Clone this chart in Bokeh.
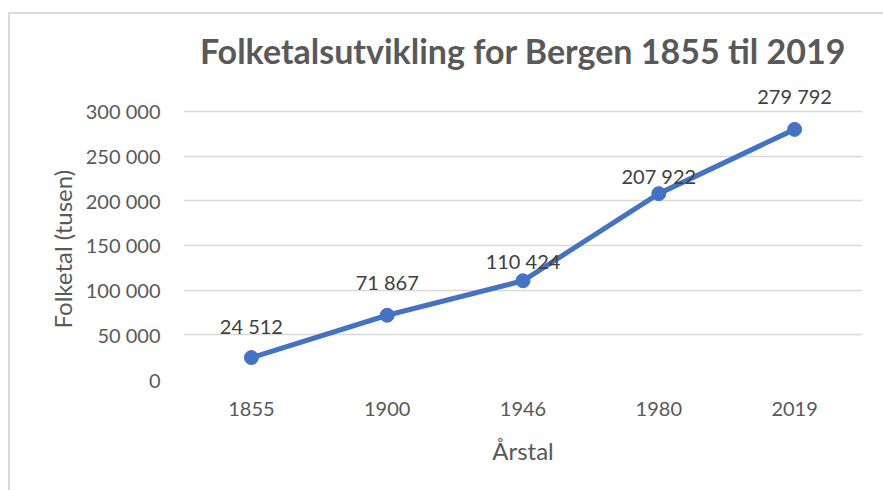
from bokeh.plotting import figure
from bokeh.models import ColumnDataSource, LabelSet, FixedTicker, CustomJSTickFormatter, Range1d, FactorRange, Title
from bokeh.core.properties import value
from bokeh.embed import file_html
from bokeh.resources import INLINE

# Data
years = ["1855", "1900", "1946", "1980", "2019"]
population = [24512, 71867, 110424, 207922, 279792]
y_ticks = [0, 50000, 100000, 150000, 200000, 250000, 300000]

# Label styling (pixel offsets above each point)
label_offsets = [32, 33, 20, 18, 33]

labels = [f"{v:,}".replace(",", " ") for v in population]

FONT = "Lato"
GRAY = "#595959"

src = ColumnDataSource(dict(x=years, y=population, lab=labels, off=label_offsets))

p = figure(width=883, height=490, x_range=FactorRange(*years, range_padding=0),
           y_range=Range1d(0, 330000), output_backend="svg", toolbar_location=None,
           min_border_left=183, min_border_right=21, min_border_top=84, min_border_bottom=111)

p.line("x", "y", source=src, line_width=5, line_color="#4472C4")
p.scatter("x", "y", source=src, size=14, fill_color="#4472C4", line_color="#4472C4")

ls = LabelSet(x="x", y="y", text="lab", source=src, y_offset="off",
              text_align="center", text_baseline="middle",
              text_font=value(FONT), text_font_size="20px", text_color="#404040")
p.add_layout(ls)

p.title.text = "Folketalsutvikling for Bergen 1855 til 2019"
p.title.align = "center"
p.title.text_font = FONT
p.title.text_font_size = "34px"
p.title.text_font_style = "bold"
p.title.text_color = GRAY
p.title.standoff = 27

p.outline_line_color = None
p.border_fill_color = None
p.xgrid.grid_line_color = None
p.ygrid.grid_line_color = "#d9d9d9"
p.ygrid.grid_line_width = 1.5
p.yaxis.ticker = FixedTicker(ticks=y_ticks)
p.yaxis.formatter = CustomJSTickFormatter(code="return tick.toString().replace(/\\B(?=(\\d{3})+(?!\\d))/g, ' ');")

for ax in (p.xaxis, p.yaxis):
    ax.axis_line_color = None
    ax.major_tick_line_color = None
    ax.minor_tick_line_color = None
    ax.major_tick_out = 0
    ax.major_tick_in = 0
    ax.major_label_text_font = FONT
    ax.major_label_text_font_size = "20px"
    ax.major_label_text_color = GRAY
    ax.axis_label_text_font = FONT
    ax.axis_label_text_font_size = "24px"
    ax.axis_label_text_font_style = "normal"
    ax.axis_label_text_color = GRAY

p.xaxis.axis_label = "Årstal"
p.xaxis.major_label_standoff = 22
p.yaxis.major_label_standoff = 23
p.xaxis.axis_label_standoff = 17

ytitle = Title(text="Folketal (tusen)", align="left", offset=51,
               text_font=FONT, text_font_size="24px", text_font_style="normal",
               text_color=GRAY, standoff=12)
p.add_layout(ytitle, "left")

p.styles = {
    "background-image": "linear-gradient(#d9d9d9,#d9d9d9), linear-gradient(#d9d9d9,#d9d9d9)",
    "background-size": "100% 2px, 2px 100%",
    "background-position": "8px 12px, 8px 12px",
    "background-repeat": "no-repeat",
    "background-color": "white",
}

open("out.html", "w").write(file_html(p, INLINE))
